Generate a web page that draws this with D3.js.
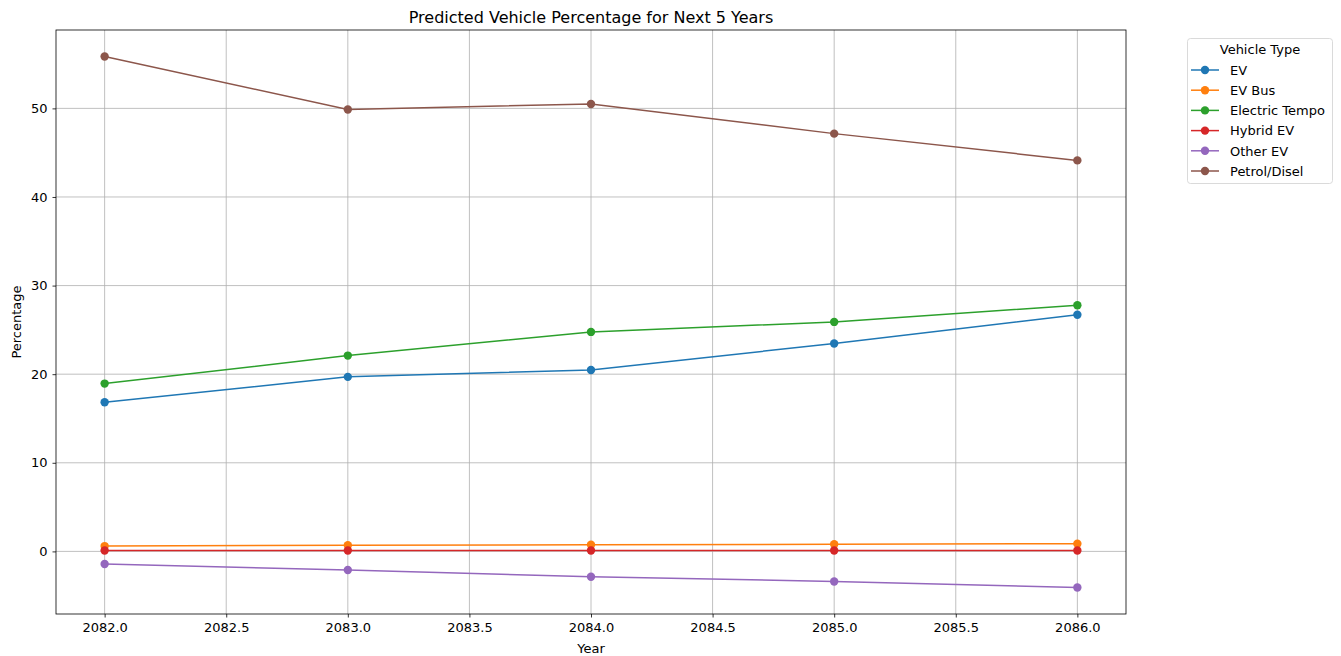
<!DOCTYPE html>
<html><head><meta charset="utf-8">
<script src="https://cdn.jsdelivr.net/npm/d3@7"></script>
<style>body{margin:0;background:#fff;} text{font-family:"DejaVu Sans",sans-serif;}</style>
</head><body>
<svg id="c" width="1341" height="656"></svg>
<script>
const years = [2082, 2083, 2084, 2085, 2086];
const seriesNames = ["EV", "EV Bus", "Electric Tempo", "Hybrid EV", "Other EV", "Petrol/Disel"];
const evValues = [16.83, 19.7, 20.48, 23.46, 26.7];
const evBusValues = [0.6, 0.7, 0.75, 0.8, 0.87];
const electricTempoValues = [18.94, 22.1, 24.77, 25.9, 27.78];
const hybridEvValues = [0.1, 0.1, 0.1, 0.1, 0.1];
const otherEvValues = [-1.43, -2.1, -2.86, -3.39, -4.07];
const petrolDiselValues = [55.85, 49.87, 50.5, 47.15, 44.13];
const colors = ["#1f77b4", "#ff7f0e", "#2ca02c", "#d62728", "#9467bd", "#8c564b"];
const xTicks = [2082, 2082.5, 2083, 2083.5, 2084, 2084.5, 2085, 2085.5, 2086];
const yTicks = [0, 10, 20, 30, 40, 50];

const allValues = [evValues, evBusValues, electricTempoValues, hybridEvValues, otherEvValues, petrolDiselValues];
const series = seriesNames.map((n, i) => ({name: n, color: colors[i], values: allValues[i]}));

const svg = d3.select("#c");
const L = 56, R = 1126, T = 30, B = 614;
const xmin = d3.min(years), xmax = d3.max(years), xpad = (xmax - xmin) * 0.05;
const ymin = d3.min(allValues.flat()), ymax = d3.max(allValues.flat()), ypad = (ymax - ymin) * 0.05;
const x = d3.scaleLinear().domain([xmin - xpad, xmax + xpad]).range([L, R]);
const y = d3.scaleLinear().domain([ymin - ypad, ymax + ypad]).range([B, T]);

// grid
svg.append("g").selectAll("line").data(xTicks).join("line")
  .attr("x1", d => x(d)).attr("x2", d => x(d)).attr("y1", T).attr("y2", B)
  .attr("stroke", "#b0b0b0").attr("stroke-width", 0.8);
svg.append("g").selectAll("line").data(yTicks).join("line")
  .attr("y1", d => y(d)).attr("y2", d => y(d)).attr("x1", L).attr("x2", R)
  .attr("stroke", "#b0b0b0").attr("stroke-width", 0.8);

// axes
const xAxis = svg.append("g").attr("transform", `translate(0,${B})`)
  .call(d3.axisBottom(x).tickValues(xTicks).tickFormat(d3.format(".1f")).tickSizeOuter(0).tickSize(3.5).tickPadding(5));
const yAxis = svg.append("g").attr("transform", `translate(${L},0)`)
  .call(d3.axisLeft(y).tickValues(yTicks).tickFormat(d3.format("d")).tickSizeOuter(0).tickSize(3.5).tickPadding(5));
[xAxis, yAxis].forEach(g => {
  g.select(".domain").remove();
  g.selectAll("text").attr("font-size", 13).attr("fill", "#000").style("font-family", "DejaVu Sans");
  g.selectAll("line").attr("stroke", "#000").attr("stroke-width", 0.8);
});
svg.append("rect").attr("x", L).attr("y", T).attr("width", R - L).attr("height", B - T)
  .attr("fill", "none").attr("stroke", "#000").attr("stroke-width", 0.8);

// lines
const line = d3.line().x((d, i) => x(years[i])).y(d => y(d));
series.forEach(s => {
  svg.append("path").attr("d", line(s.values)).attr("fill", "none")
    .attr("stroke", s.color).attr("stroke-width", 1.5);
  svg.append("g").selectAll("circle").data(s.values).join("circle")
    .attr("cx", (d, i) => x(years[i])).attr("cy", d => y(d)).attr("r", 4.2).attr("fill", s.color);
});

// title & labels
svg.append("text").attr("x", (L + R) / 2).attr("y", 23).attr("text-anchor", "middle")
  .attr("font-size", 16).text("Predicted Vehicle Percentage for Next 5 Years");
svg.append("text").attr("x", (L + R) / 2).attr("y", 653).attr("text-anchor", "middle")
  .attr("font-size", 13).text("Year");
svg.append("text").attr("transform", `translate(21,${(T + B) / 2}) rotate(-90)`).attr("text-anchor", "middle")
  .attr("font-size", 13).text("Percentage");

// legend
const lg = svg.append("g");
lg.append("rect").attr("x", 1187.5).attr("y", 38.5).attr("width", 145).attr("height", 145).attr("rx", 3)
  .attr("fill", "#fff").attr("stroke", "#d0d0d0").attr("stroke-width", 0.8);
lg.append("text").attr("x", 1260).attr("y", 54).attr("text-anchor", "middle").attr("font-size", 13).text("Vehicle Type");
series.forEach((s, i) => {
  const yy = 70 + i * 20.2;
  lg.append("line").attr("x1", 1191).attr("x2", 1219).attr("y1", yy).attr("y2", yy)
    .attr("stroke", s.color).attr("stroke-width", 1.5);
  lg.append("circle").attr("cx", 1205).attr("cy", yy).attr("r", 4.2).attr("fill", s.color);
  lg.append("text").attr("x", 1230).attr("y", yy + 4.7).attr("font-size", 13).text(s.name);
});
</script>
</body></html>
